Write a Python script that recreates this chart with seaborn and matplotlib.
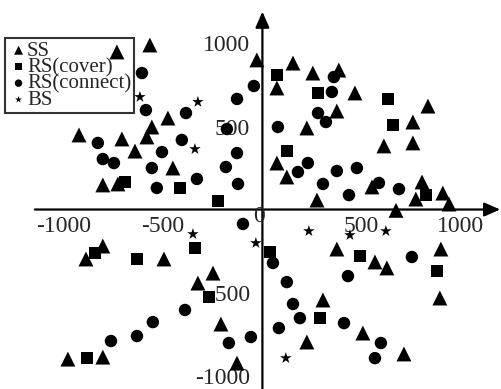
import matplotlib
matplotlib.use("Agg")
import matplotlib.pyplot as plt
import seaborn as sns
import pandas as pd

# ---- data ----
ss_x = [-567, -733, -476, -557, -582, -924, -708, -642, -451, -804, -728,
        -28, 73, 154, 254, 385, 466, 834, 375, 224, 758, 612, 758, 73, 123,
        275, 552, 804, 773, 909, 940, 673,
        -804, -889, -496, -249, -325, -209, -128, 375, 899, 567, 627, 305,
        894, 224, 506, 713, -980, -804]
ss_y = [991, 949, 551, 497, 437, 449, 425, 352, 250, 148, 154,
        901, 732, 882, 822, 840, 702, 623, 593, 491, 527, 383, 401, 280, 196,
        57, 136, 166, 63, 99, 33, -5,
        -220, -298, -298, -383, -443, -690, -925, -238, -238, -316, -352, -545,
        -533, -798, -744, -870, -901, -889]

rsc_x = [73, 280, 632, 657, 123, -416, -224, -693, 824, -844, -632, -340,
         38, -270, 290, 491, 879, -884]
rsc_y = [810, 702, 666, 509, 352, 130, 51, 166, 87, -262, -298, -232,
         -256, -527, -654, -280, -370, -895]

rsn_x = [-607, -587, -385, -43, -128, -179, 78, 360, 350, 280, 320, -829,
         -804, -748, -506, -557, -532, -406, -128, -184, -330, -123, 229, 179,
         305, 375, 476, 587, 688, 436, -98, 53, 123, 154, 189, 83, -390, -58,
         -169, -552, -632, -763, 753, 431, 411, 597, 567]
rsn_y = [822, 599, 581, 744, 666, 485, 497, 798, 708, 581, 527, 401,
         304, 280, 346, 250, 130, 419, 340, 256, 184, 154, 280, 226,
         154, 232, 250, 160, 123, 87, -87, -322, -437, -569, -654, -714, -605, -768,
         -804, -678, -762, -792, -286, -401, -684, -804, -895]

bs_x = [-617, -325, -340, -350, -33, 234, 441, 622, 118]
bs_y = [678, 648, 364, -148, -202, -130, -154, -130, -895]

labels = ["SS", "RS(cover)", "RS(connect)", "BS"]
x_ticks = [-1000, -500, 500, 1000]
y_ticks = [-1000, -500, 500, 1000]

sns.set_style("white")
plt.rcParams["font.family"] = ["Liberation Serif", "DejaVu Serif"]
plt.rcParams["axes.unicode_minus"] = False

fig = plt.figure(figsize=(5.01, 3.89), dpi=100)
ax = fig.add_axes([0, 0, 1, 1])

groups = [
    (ss_x, ss_y, labels[0], "^", 115),
    (rsc_x, rsc_y, labels[1], "s", 78),
    (rsn_x, rsn_y, labels[2], "o", 80),
    (bs_x, bs_y, labels[3], "*", 75),
]
for gx, gy, lab, mk, s in groups:
    df = pd.DataFrame({"x": gx, "y": gy})
    sns.scatterplot(data=df, x="x", y="y", ax=ax, marker=mk, s=s,
                    color="black", edgecolor="none", linewidth=0, label=lab,
                    clip_on=False, zorder=6)

ax.set_xlim(-1322, 1202)
ax.set_ylim(-1081, 1262)
ax.set_xlabel("")
ax.set_ylabel("")

# axes through origin
for side in ["top", "right"]:
    ax.spines[side].set_visible(False)
ax.spines["left"].set_position(("data", 0))
ax.spines["bottom"].set_position(("data", 0))
ax.spines["left"].set_color("none")
ax.spines["bottom"].set_color("none")

arrow_kw = dict(arrowstyle="-|>,head_length=0.8,head_width=0.35", lw=1.6,
                color="black", mutation_scale=12, shrinkA=0, shrinkB=0)
ax.annotate("", xy=(1198, 0), xytext=(-1146, 0), arrowprops=arrow_kw,
            annotation_clip=False, zorder=2)
ax.annotate("", xy=(0, 1192), xytext=(0, -1081), arrowprops=arrow_kw,
            annotation_clip=False, zorder=2)

ax.set_xticks(x_ticks)
ax.set_xticklabels([str(v) for v in x_ticks])
ax.set_yticks(y_ticks)
ax.set_yticklabels([str(v) for v in y_ticks])
ax.tick_params(axis="both", length=0, labelsize=17)
ax.tick_params(axis="x", pad=5)
ax.tick_params(axis="y", pad=9)
ax.text(-17, -45, "0", fontsize=17, ha="center", va="center")

leg = ax.legend(loc="upper left", bbox_to_anchor=(5 / 501, 1 - 38 / 389),
                fontsize=15, frameon=True, fancybox=False, borderpad=0.15,
                labelspacing=-0.15, handletextpad=-0.1, handlelength=1.0,
                borderaxespad=0, markerscale=0.6)
frame = leg.get_frame()
frame.set_edgecolor("black")
frame.set_facecolor("none")
frame.set_linewidth(1.5)
leg.set_zorder(5)

fig.savefig("out.png", dpi=100)
